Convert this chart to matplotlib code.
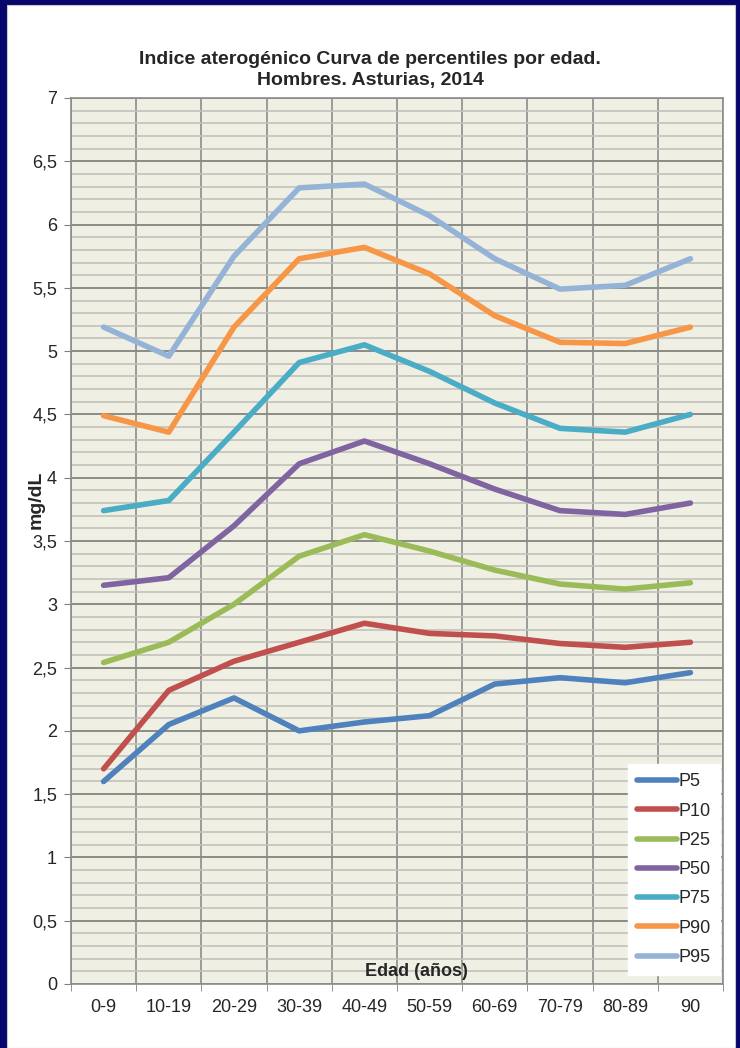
import matplotlib.pyplot as plt
import numpy as np
from matplotlib.patches import Rectangle
from matplotlib.ticker import MultipleLocator, FuncFormatter

plt.rcParams['font.family'] = ['Liberation Sans', 'DejaVu Sans']

# Age groups (x categories)
edades = ['0-9', '10-19', '20-29', '30-39', '40-49', '50-59',
          '60-69', '70-79', '80-89', '90']

# Percentile curves (mg/dL)
p5 = [1.60, 2.05, 2.26, 2.00, 2.07, 2.12, 2.37, 2.42, 2.38, 2.46]
p10 = [1.70, 2.32, 2.55, 2.70, 2.85, 2.77, 2.75, 2.69, 2.66, 2.70]
p25 = [2.54, 2.70, 3.00, 3.38, 3.55, 3.42, 3.27, 3.16, 3.12, 3.17]
p50 = [3.15, 3.21, 3.62, 4.11, 4.29, 4.11, 3.91, 3.74, 3.71, 3.80]
p75 = [3.74, 3.82, 4.36, 4.91, 5.05, 4.84, 4.59, 4.39, 4.36, 4.50]
p90 = [4.49, 4.36, 5.19, 5.73, 5.82, 5.61, 5.28, 5.07, 5.06, 5.19]
p95 = [5.19, 4.96, 5.75, 6.29, 6.32, 6.07, 5.73, 5.49, 5.52, 5.73]

series = [('P5', p5, '#4F81BD'), ('P10', p10, '#C0504D'),
          ('P25', p25, '#9BBB59'), ('P50', p50, '#8064A2'),
          ('P75', p75, '#4BACC6'), ('P90', p90, '#F79646'),
          ('P95', p95, '#95B3D7')]

W, H = 740, 1048
fig = plt.figure(figsize=(W / 100, H / 100), dpi=100, facecolor='#06066c')
# white slide panel inside the navy frame
panel = Rectangle((7 / W, 0), 728 / W, 1043 / H, transform=fig.transFigure,
                  facecolor='white', edgecolor='#c8c8c8', lw=0.8, zorder=-10)
fig.add_artist(panel)

ax = fig.add_axes([71 / W, 64 / H, 652 / W, 886 / H])
ax.set_zorder(1)
ax.set_facecolor('#efefe3')

x = np.arange(len(edades))
for name, vals, col in series:
    ax.plot(x, vals, color=col, lw=4.0, solid_joinstyle='round',
            solid_capstyle='round', label=name, zorder=3)

ax.set_xlim(-0.5, len(edades) - 0.5)
ax.set_ylim(0, 7)

ax.set_xticks(x)
ax.set_xticklabels(edades)
ax.set_xticks(np.arange(-0.5, len(edades)), minor=True)
ax.yaxis.set_major_locator(MultipleLocator(0.5))
ax.yaxis.set_minor_locator(MultipleLocator(0.1))
ax.yaxis.set_major_formatter(FuncFormatter(lambda v, p: ('%g' % v).replace('.', ',')))

ax.tick_params(axis='x', which='major', length=0, pad=11, labelsize=13, labelcolor='#262626')
ax.tick_params(axis='x', which='minor', length=5, color='#808080')
ax.tick_params(axis='y', which='major', length=5, pad=5, color='#808080',
               labelsize=13, labelcolor='#262626')
ax.tick_params(axis='y', which='minor', length=0)

ax.grid(axis='x', which='minor', color='#8c8c8c', lw=1.2)
ax.grid(axis='y', which='major', color='#8c8c86', lw=1.4)
ax.grid(axis='y', which='minor', color='#c2c2bc', lw=1.2)
ax.set_axisbelow(True)
for s in ax.spines.values():
    s.set_color('#8c8c8c')
    s.set_linewidth(1.2)

ax.text(0.53, 0.004, 'Edad (años)', transform=ax.transAxes, ha='center', va='bottom',
        fontsize=13, fontweight='bold', color='#262626', zorder=4)
fig.text(36 / W, 1 - 500 / H, 'mg/dL', rotation=90, ha='center', va='center',
         fontsize=14, fontweight='bold', color='#262626', zorder=5)

fig.text(0.5, 1 - 70 / H, 'Indice aterogénico Curva de percentiles por edad.\nHombres. Asturias, 2014',
         ha='center', va='center', fontsize=14, fontweight='bold', color='#262626',
         linespacing=1.25)

leg = ax.legend(loc='lower right', bbox_to_anchor=(720 / W, 73 / H),
                bbox_transform=fig.transFigure, borderaxespad=0, fontsize=13,
                frameon=True, fancybox=False, framealpha=1, edgecolor='white',
                handlelength=2.2, handletextpad=0.1, labelspacing=0.68, borderpad=0.5)
leg.get_frame().set_facecolor('white')
for t in leg.get_texts():
    t.set_color('#262626')

fig.savefig('out.png', dpi=100, facecolor=fig.get_facecolor())
